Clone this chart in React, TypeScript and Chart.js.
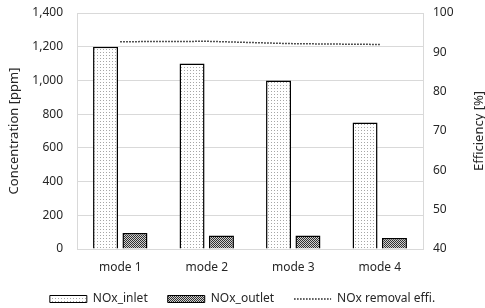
import React, { useEffect, useRef } from "react";
import { Chart, registerables } from "chart.js";

Chart.register(...registerables);

const categories = ["mode 1", "mode 2", "mode 3", "mode 4"];
const noxInlet = [1200, 1100, 1000, 750];
const noxOutlet = [95, 80, 80, 65];
const removalEffi = [92.7, 92.8, 92.2, 92.0];

const FONT = "'Noto Sans', 'Open Sans', sans-serif";
const TEXT = "#262626";
const GRID = "#d9d9d9";

function makeDotPattern(ctx: CanvasRenderingContext2D) {
  const c = document.createElement("canvas");
  c.width = 3;
  c.height = 3;
  const g = c.getContext("2d")!;
  g.fillStyle = "#ffffff";
  g.fillRect(0, 0, 3, 3);
  g.fillStyle = "#a6a6a6";
  g.fillRect(1, 1, 1, 1);
  return ctx.createPattern(c, "repeat")!;
}

function makeHatchPattern(ctx: CanvasRenderingContext2D) {
  const c = document.createElement("canvas");
  c.width = 2;
  c.height = 2;
  const g = c.getContext("2d")!;
  g.fillStyle = "#d0d0d0";
  g.fillRect(0, 0, 2, 2);
  g.fillStyle = "#303030";
  g.fillRect(0, 0, 1, 1);
  g.fillRect(1, 1, 1, 1);
  return ctx.createPattern(c, "repeat")!;
}

const rightTitlePlugin = {
  id: "rightTitle",
  afterDraw(chart: any) {
    const ctx = chart.ctx as CanvasRenderingContext2D;
    ctx.save();
    ctx.font = `13px ${FONT}`;
    ctx.fillStyle = TEXT;
    ctx.textAlign = "center";
    ctx.textBaseline = "middle";
    ctx.translate(479, (chart.chartArea.top + chart.chartArea.bottom) / 2);
    ctx.rotate(-Math.PI / 2);
    ctx.fillText("Efficiency [%]", 0, 0);
    ctx.restore();
  },
};

export default function App() {
  const ref = useRef<HTMLCanvasElement | null>(null);

  useEffect(() => {
    document.body.style.margin = "0";
    const canvas = ref.current!;
    const ctx = canvas.getContext("2d")!;
    const dots = makeDotPattern(ctx);
    const hatch = makeHatchPattern(ctx);

    const chart = new Chart(canvas, {
      type: "bar",
      data: {
        labels: categories,
        datasets: [
          {
            type: "bar",
            label: "NOx_inlet",
            data: noxInlet,
            backgroundColor: dots,
            borderColor: "#000000",
            borderWidth: 1.5,
            yAxisID: "y",
            order: 2,
            categoryPercentage: 0.68,
            barPercentage: 0.85,
          },
          {
            type: "bar",
            label: "NOx_outlet",
            data: noxOutlet,
            backgroundColor: hatch,
            borderColor: "#000000",
            borderWidth: 1.5,
            yAxisID: "y",
            order: 2,
            categoryPercentage: 0.68,
            barPercentage: 0.85,
          },
          {
            type: "line",
            label: "NOx removal effi.",
            data: removalEffi,
            borderColor: "#1a1a1a",
            borderWidth: 1.5,
            borderDash: [1.5, 1.5],
            pointRadius: 0,
            fill: false,
            tension: 0,
            yAxisID: "y1",
            order: 1,
          },
        ] as any,
      },
      options: {
        responsive: false,
        animation: false,
        layout: { autoPadding: false, padding: { top: 13, bottom: -7, left: 0, right: 0 } },
        plugins: {
          tooltip: { enabled: false },
          legend: {
            position: "bottom",
            labels: {
              usePointStyle: true,
              pointStyleWidth: 37,
              boxHeight: 7,
              boxWidth: 37,
              padding: 20,
              color: TEXT,
              font: { family: FONT, size: 12 },
              generateLabels: (ch: any) =>
                ch.data.datasets.map((ds: any, i: number) => ({
                  text: ds.label,
                  datasetIndex: i,
                  fillStyle: ds.type === "line" ? "rgba(0,0,0,0)" : ds.backgroundColor,
                  strokeStyle: ds.type === "line" ? "#1a1a1a" : "#000000",
                  lineWidth: ds.type === "line" ? 1.5 : 1,
                  lineDash: ds.type === "line" ? [1.5, 1.5] : [],
                  pointStyle: ds.type === "line" ? "line" : "rect",
                  hidden: false,
                  fontColor: TEXT,
                })),
            },
          },
        },
        scales: {
          x: {
            grid: { display: false },
            border: { display: true, color: GRID, width: 1 },
            ticks: {
              color: TEXT,
              font: { family: FONT, size: 12 },
              padding: 3,
            },
            afterFit: (s: any) => {
              s.height = 24;
            },
          },
          y: {
            position: "left",
            min: 0,
            max: 1400,
            ticks: {
              stepSize: 200,
              color: TEXT,
              font: { family: FONT, size: 12 },
              padding: 14,
              callback: (v: any) => Number(v).toLocaleString("en-US"),
            },
            grid: { color: GRID, lineWidth: 1, drawTicks: false },
            border: { display: true, color: GRID, width: 1 },
            title: {
              display: true,
              text: "Concentration [ppm]",
              color: TEXT,
              font: { family: FONT, size: 13 },
              padding: { top: 6, bottom: 0 },
            },
            afterFit: (s: any) => {
              s.width = 77;
              s.paddingTop = 0;
              s.paddingBottom = 0;
            },
          },
          y1: {
            position: "right",
            min: 40,
            max: 100,
            ticks: {
              stepSize: 10,
              color: TEXT,
              font: { family: FONT, size: 12 },
              padding: 10,
            },
            grid: { display: false, drawTicks: false },
            border: { display: true, color: GRID, width: 1 },
            afterFit: (s: any) => {
              s.width = 62;
              s.paddingTop = 0;
              s.paddingBottom = 0;
            },
          },
        },
      },
      plugins: [rightTitlePlugin],
    });

    return () => chart.destroy();
  }, []);

  return (
    <div style={{ width: 485, height: 308 }}>
      <canvas ref={ref} width={485} height={308} style={{ display: "block" }} />
    </div>
  );
}
